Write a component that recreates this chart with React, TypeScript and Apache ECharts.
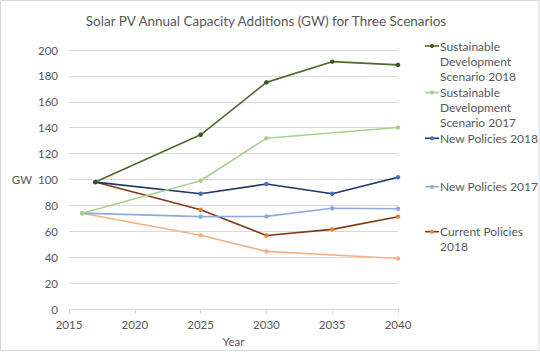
import React, { useEffect, useRef } from "react";
import * as echarts from "echarts";

const seriesNames = [
  "Sustainable Development Scenario 2018",
  "Sustainable Development Scenario 2017",
  "New Policies 2018",
  "New Policies 2017",
  "Current Policies 2018",
  "Current Policies 2017",
];
const legendLabels = [
  "Sustainable\nDevelopment\nScenario 2018",
  "Sustainable\nDevelopment\nScenario 2017",
  "New Policies 2018",
  "New Policies 2017",
  "Current Policies\n2018",
];
const years2018 = [2017, 2025, 2030, 2035, 2040];
const years2017 = [2016, 2025, 2030, 2040];
const years2017np = [2016, 2025, 2030, 2035, 2040];

const sds2018 = [98, 134.5, 175, 191, 188.5];
const sds2017 = [74, 99, 131.8, 140.2];
const np2018 = [98, 89, 96.5, 89, 101.8];
const np2017 = [74, 71.3, 71.5, 77.8, 77.4];
const cp2018 = [98, 76.6, 56.8, 61.5, 71.3];
const cp2017 = [74, 57, 44.5, 39];

const lineColors = ["#4f6b2f", "#a9d18e", "#203864", "#8faadc", "#7f3b12", "#f4b183"];
const markerColors = ["#3b5323", "#a9d18e", "#4472c4", "#8faadc", "#ed7d31", "#f4b183"];

const xTicks = { min: 2015, max: 2040, interval: 5 };
const yTicks = { min: 0, max: 200, interval: 20 };

const FONT = "Lato, 'Open Sans', sans-serif";
const TXT = "#595959";

export default function App() {
  const ref = useRef<HTMLDivElement>(null);
  useEffect(() => {
    if (!ref.current) return;
    const chart = echarts.init(ref.current, undefined, { renderer: "svg" });
    const datasets = [
      years2018.map((y, i) => [y, sds2018[i]]),
      years2017.map((y, i) => [y, sds2017[i]]),
      years2018.map((y, i) => [y, np2018[i]]),
      years2017np.map((y, i) => [y, np2017[i]]),
      years2018.map((y, i) => [y, cp2018[i]]),
      years2017.map((y, i) => [y, cp2017[i]]),
    ];
    const series = seriesNames.map((name, i) => ({
      name,
      type: "line",
      data: datasets[i],
      symbol: "circle",
      symbolSize: 4.5,
      lineStyle: { color: lineColors[i], width: 1.6 },
      itemStyle: { color: markerColors[i] },
      z: 10 - i,
    }));
    const legendTops = [46, 92.5, 138.3, 186.7, 231.7];
    const graphic: any[] = [
      {
        type: "rect",
        shape: { x: 0.5, y: 0.5, width: 538.5, height: 350 },
        style: { fill: "none", stroke: "#d9d9d9", lineWidth: 1 },
        silent: true,
      },
    ];
    legendLabels.forEach((label, i) => {
      const y = legendTops[i];
      graphic.push({
        type: "line",
        shape: { x1: 425, y1: y, x2: 439, y2: y },
        style: { stroke: lineColors[i], lineWidth: 1.6 },
      });
      graphic.push({
        type: "circle",
        shape: { cx: 432, cy: y, r: 2 },
        style: { fill: markerColors[i] },
      });
      graphic.push({
        type: "text",
        x: 440,
        y: y - 7.5,
        style: {
          text: label,
          font: `12px ${FONT}`,
          fill: TXT,
          lineHeight: 15,
          verticalAlign: "top",
        },
      });
    });
    chart.setOption({
      animation: false,
      backgroundColor: "#ffffff",
      title: {
        text: "Solar PV Annual Capacity Additions (GW) for Three Scenarios",
        left: 261,
        textAlign: "center",
        top: 9,
        textStyle: { fontFamily: FONT, fontSize: 13.5, fontWeight: "normal", color: TXT },
      },
      grid: { left: 69, right: 142, top: 50, bottom: 41 },
      xAxis: {
        type: "value",
        ...xTicks,
        name: "Year",
        nameLocation: "middle",
        nameGap: 26,
        nameTextStyle: { fontFamily: FONT, fontSize: 11.5, color: TXT },
        axisLine: { show: true, lineStyle: { color: "#d9d9d9" } },
        axisTick: { show: true, length: 5, lineStyle: { color: "#d9d9d9" } },
        splitLine: { show: false },
        axisLabel: {
          fontFamily: FONT,
          fontSize: 11.5,
          color: TXT,
          margin: 9,
          formatter: (v: number) => String(v),
        },
      },
      yAxis: {
        type: "value",
        ...yTicks,
        name: "GW",
        nameLocation: "middle",
        nameRotate: 0,
        nameGap: 34,
        nameTextStyle: { fontFamily: FONT, fontSize: 11.5, color: TXT, align: "right" },
        axisLine: { show: false },
        axisTick: { show: false },
        splitLine: { lineStyle: { color: "#d9d9d9", width: 1 } },
        axisLabel: { fontFamily: FONT, fontSize: 11.5, color: TXT, margin: 11 },
      },
      legend: { show: false },
      graphic,
      series,
    });
    return () => chart.dispose();
  }, []);
  return (
    <div
      ref={ref}
      style={{ position: "fixed", left: 0, top: 0, width: 540, height: 352 }}
    />
  );
}
